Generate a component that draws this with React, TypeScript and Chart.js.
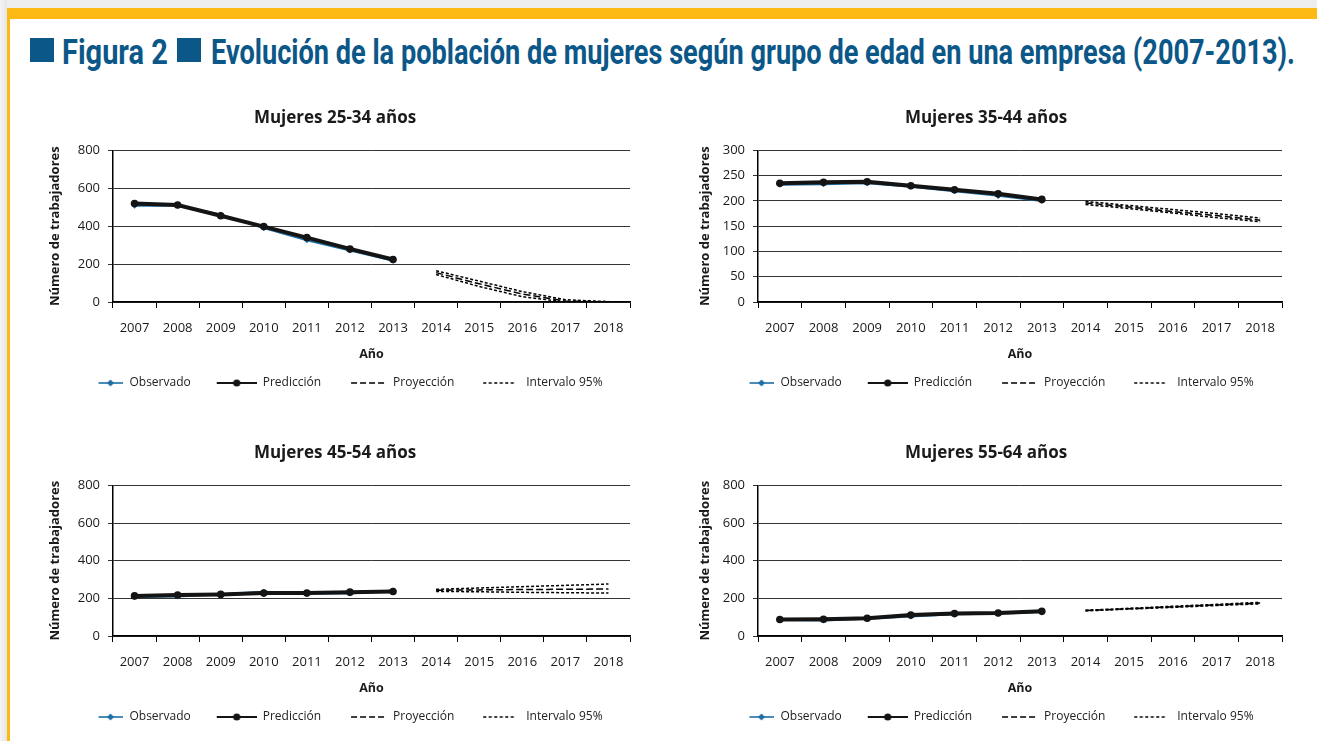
import React, { useEffect, useLayoutEffect, useRef } from 'react';
import { Chart, registerables } from 'chart.js';

Chart.register(...registerables);

// ---------- DATA ----------
const YEARS = ['2007', '2008', '2009', '2010', '2011', '2012', '2013', '2014', '2015', '2016', '2017', '2018'];
const N = null;

// Mujeres 25-34 años
const OBS_25 = [508, 508, 462, 390, 326, 272, 218, N, N, N, N, N];
const PRED_25 = [520, 512, 455, 398, 340, 280, 224, N, N, N, N, N];
const PROJ_25 = [N, N, N, N, N, N, N, 155, 96, 42, 5, 0];
const UP_25 = [N, N, N, N, N, N, N, 165, 110, 55, 12, 2];
const LO_25 = [N, N, N, N, N, N, N, 145, 82, 28, 0, 0];

// Mujeres 35-44 años
const OBS_35 = [232, 233, 235, 228, 219, 210, 200, N, N, N, N, N];
const PRED_35 = [235, 237, 238, 230, 222, 214, 203, N, N, N, N, N];
const PROJ_35 = [N, N, N, N, N, N, N, 196, 188, 179, 171, 162];
const UP_35 = [N, N, N, N, N, N, N, 199, 191, 183, 175, 166];
const LO_35 = [N, N, N, N, N, N, N, 193, 185, 176, 167, 159];

// Mujeres 45-54 años
const OBS_45 = [207, 210, 222, 235, 226, 226, 242, N, N, N, N, N];
const PRED_45 = [213, 218, 221, 228, 228, 233, 236, N, N, N, N, N];
const PROJ_45 = [N, N, N, N, N, N, N, 243, 245, 247, 248, 250];
const UP_45 = [N, N, N, N, N, N, N, 248, 255, 262, 269, 276];
const LO_45 = [N, N, N, N, N, N, N, 237, 235, 232, 230, 228];

// Mujeres 55-64 años
const OBS_55 = [85, 83, 92, 103, 115, 118, 127, N, N, N, N, N];
const PRED_55 = [88, 89, 94, 111, 119, 122, 131, N, N, N, N, N];
const PROJ_55 = [N, N, N, N, N, N, N, 135, 145, 155, 165, 175];
const UP_55 = [N, N, N, N, N, N, N, 137, 147, 158, 168, 179];
const LO_55 = [N, N, N, N, N, N, N, 133, 143, 152, 162, 171];

const LEGEND_LABELS = ['Observado', 'Predicción', 'Proyección', 'Intervalo 95%'];
const Y_TITLE = 'Número de trabajadores';
const X_TITLE = 'Año';
const HEADING_A = 'Figura 2';
const HEADING_B = 'Evolución de la población de mujeres según grupo de edad en una empresa (2007-2013).';

// ---------- STYLE ----------
const BLUE = '#1f6fa6';
const BLACK = '#141414';
const TITLE_BLUE = '#0b5788';
const YELLOW = '#fdb913';
const FONT = "'Open Sans', 'DejaVu Sans', sans-serif";
const ICON_W = 56;

function makeIcon(kind: number): HTMLCanvasElement {
  const c = document.createElement('canvas');
  c.width = ICON_W;
  c.height = 12;
  const ctx = c.getContext('2d') as CanvasRenderingContext2D;
  const y = 6;
  ctx.lineCap = 'butt';
  if (kind === 0) {
    ctx.strokeStyle = BLUE;
    ctx.lineWidth = 1.6;
    ctx.beginPath();
    ctx.moveTo(ICON_W - 25, y);
    ctx.lineTo(ICON_W, y);
    ctx.stroke();
    const cx = ICON_W - 13;
    ctx.fillStyle = BLUE;
    ctx.beginPath();
    ctx.moveTo(cx, y - 3.5);
    ctx.lineTo(cx + 3.5, y);
    ctx.lineTo(cx, y + 3.5);
    ctx.lineTo(cx - 3.5, y);
    ctx.closePath();
    ctx.fill();
  } else if (kind === 1) {
    ctx.strokeStyle = BLACK;
    ctx.lineWidth = 2;
    ctx.beginPath();
    ctx.moveTo(ICON_W - 40, y);
    ctx.lineTo(ICON_W, y);
    ctx.stroke();
    ctx.fillStyle = BLACK;
    ctx.beginPath();
    ctx.arc(ICON_W - 20, y, 3.6, 0, Math.PI * 2);
    ctx.fill();
  } else if (kind === 2) {
    ctx.strokeStyle = '#000';
    ctx.lineWidth = 1.4;
    ctx.setLineDash([6, 3]);
    ctx.beginPath();
    ctx.moveTo(ICON_W - 36, y);
    ctx.lineTo(ICON_W, y);
    ctx.stroke();
  } else {
    ctx.strokeStyle = '#000';
    ctx.lineWidth = 1.3;
    ctx.setLineDash([3, 2.5]);
    ctx.beginPath();
    ctx.moveTo(ICON_W - 37, y);
    ctx.lineTo(ICON_W - 4, y);
    ctx.stroke();
  }
  return c;
}

type PanelProps = {
  title: string;
  obs: (number | null)[];
  pred: (number | null)[];
  proj: (number | null)[];
  up: (number | null)[];
  lo: (number | null)[];
  yMax: number;
  yStep: number;
  left: number;
  top: number;
  width: number;
  height: number;
  yWidth: number;
};

function Panel(p: PanelProps) {
  const ref = useRef<HTMLCanvasElement | null>(null);
  useEffect(() => {
    if (!ref.current) return;
    const icons = [0, 1, 2, 3].map(makeIcon);
    const chart = new Chart(ref.current, {
      type: 'line',
      data: {
        labels: YEARS,
        datasets: [
          {
            label: LEGEND_LABELS[0],
            data: p.obs,
            borderColor: BLUE,
            backgroundColor: BLUE,
            borderWidth: 2,
            pointStyle: 'rectRot',
            pointRadius: 3,
            pointBorderWidth: 0,
            pointBackgroundColor: BLUE,
            pointBorderColor: BLUE,
            order: 2,
          },
          {
            label: LEGEND_LABELS[1],
            data: p.pred,
            borderColor: BLACK,
            backgroundColor: BLACK,
            borderWidth: 4,
            pointStyle: 'circle',
            pointRadius: 3.8,
            pointBorderWidth: 0,
            pointBackgroundColor: BLACK,
            pointBorderColor: BLACK,
            order: 1,
          },
          {
            label: LEGEND_LABELS[2],
            data: p.proj,
            borderColor: '#000',
            borderWidth: 1.5,
            borderDash: [7, 3],
            pointRadius: 0,
            order: 3,
          },
          {
            label: LEGEND_LABELS[3],
            data: p.up,
            borderColor: '#000',
            borderWidth: 1.5,
            borderDash: [3, 2],
            pointRadius: 0,
            order: 4,
          },
          {
            label: LEGEND_LABELS[3] + ' inf',
            data: p.lo,
            borderColor: '#000',
            borderWidth: 1.5,
            borderDash: [3, 2],
            pointRadius: 0,
            order: 5,
          },
        ],
      },
      options: {
        animation: false,
        responsive: false,
        maintainAspectRatio: false,
        spanGaps: false,
        layout: { padding: { left: 0, right: 20, top: 0, bottom: 0 } },
        plugins: {
          tooltip: { enabled: false },
          title: {
            display: true,
            text: p.title,
            color: '#1a1a1a',
            font: { family: FONT, size: 17, weight: 'bold', lineHeight: 1.2 },
            padding: { top: 8, bottom: 22 },
          },
          legend: {
            display: true,
            position: 'bottom',
            labels: {
              usePointStyle: true,
              pointStyleWidth: ICON_W,
              padding: 10,
              color: '#222',
              font: { family: FONT, size: 12 },
              generateLabels: () =>
                LEGEND_LABELS.map((t, i) => ({
                  text: t,
                  pointStyle: icons[i] as any,
                  fillStyle: 'transparent',
                  strokeStyle: 'transparent',
                  lineWidth: 0,
                  hidden: false,
                  datasetIndex: i,
                  fontColor: '#222',
                })),
            },
          },
        },
        scales: {
          x: {
            type: 'category',
            offset: true,
            afterFit: (s: any) => {
              s.height = 65;
            },
            grid: {
              offset: true,
              drawOnChartArea: false,
              drawTicks: true,
              tickLength: 6,
              color: '#000',
              lineWidth: 1,
            },
            border: { display: true, color: '#000', width: 1.5 },
            ticks: {
              color: '#1a1a1a',
              font: { family: FONT, size: 13 },
              padding: 12,
              maxRotation: 0,
              autoSkip: false,
            },
            title: {
              display: true,
              text: X_TITLE,
              color: '#1a1a1a',
              font: { family: FONT, size: 12.5, weight: 'bold', lineHeight: 1.2 },
              padding: { top: 0, bottom: 5 },
            },
          },
          y: {
            min: 0,
            max: p.yMax,
            afterFit: (s: any) => {
              s.width = p.yWidth;
            },
            grid: {
              color: '#333',
              lineWidth: 1,
              tickLength: 5,
              drawTicks: true,
            },
            border: { display: true, color: '#000', width: 1.5 },
            ticks: {
              stepSize: p.yStep,
              color: '#1a1a1a',
              font: { family: FONT, size: 13 },
              padding: 8,
            },
            title: {
              display: true,
              text: Y_TITLE,
              color: '#1a1a1a',
              font: { family: FONT, size: 13, weight: 'bold', lineHeight: 1.2 },
              padding: { top: 7, bottom: 0 },
            },
          },
        },
      } as any,
    });
    return () => chart.destroy();
  }, []);
  return (
    <canvas
      ref={ref}
      width={p.width}
      height={p.height}
      style={{ position: 'absolute', left: p.left, top: p.top, width: p.width, height: p.height }}
    />
  );
}

function Heading() {
  const aRef = useRef<HTMLSpanElement | null>(null);
  const bRef = useRef<HTMLSpanElement | null>(null);
  useLayoutEffect(() => {
    const fit = (el: HTMLSpanElement | null, target: number) => {
      if (!el) return;
      const w = el.offsetWidth;
      if (w > 0) el.style.transform = `scaleX(${target / w})`;
    };
    fit(aRef.current, 106);
    fit(bRef.current, 1084);
  }, []);
  const textStyle: React.CSSProperties = {
    position: 'absolute',
    top: 35,
    whiteSpace: 'nowrap',
    fontFamily: "'Liberation Sans Narrow', Roboto, 'Liberation Sans', sans-serif",
    fontWeight: 700,
    fontSize: 35,
    lineHeight: '35px',
    color: TITLE_BLUE,
    transformOrigin: 'left center',
  };
  const sq: React.CSSProperties = {
    position: 'absolute',
    top: 38,
    width: 24,
    height: 24,
    background: TITLE_BLUE,
  };
  return (
    <>
      <div style={{ ...sq, left: 30 }} />
      <span ref={aRef} style={{ ...textStyle, left: 62 }}>
        {HEADING_A}
      </span>
      <div style={{ ...sq, left: 177 }} />
      <span ref={bRef} style={{ ...textStyle, left: 211 }}>
        {HEADING_B}
      </span>
    </>
  );
}

export default function App() {
  return (
    <div
      style={{
        position: 'fixed',
        left: 0,
        top: 0,
        width: 1317,
        height: 741,
        background: '#ffffff',
        overflow: 'hidden',
      }}
    >
      <div style={{ position: 'absolute', left: 0, top: 0, width: 1317, height: 8, background: '#eeeeee' }} />
      <div style={{ position: 'absolute', left: 0, top: 0, width: 7, height: 741, background: 'linear-gradient(to right, #f4f4f4, #e6e6e6)' }} />
      <div style={{ position: 'absolute', left: 7, top: 8, width: 1310, height: 11, background: YELLOW }} />
      <div style={{ position: 'absolute', left: 7, top: 8, width: 3, height: 733, background: YELLOW }} />
      <Heading />
      <Panel title="Mujeres 25-34 años" obs={OBS_25} pred={PRED_25} proj={PROJ_25} up={UP_25} lo={LO_25}
        yMax={800} yStep={200} left={40} top={100} width={610} height={299} yWidth={73} />
      <Panel title="Mujeres 35-44 años" obs={OBS_35} pred={PRED_35} proj={PROJ_35} up={UP_35} lo={LO_35}
        yMax={300} yStep={50} left={690} top={100} width={612} height={299} yWidth={68} />
      <Panel title="Mujeres 45-54 años" obs={OBS_45} pred={PRED_45} proj={PROJ_45} up={UP_45} lo={LO_45}
        yMax={800} yStep={200} left={40} top={435} width={610} height={298} yWidth={73} />
      <Panel title="Mujeres 55-64 años" obs={OBS_55} pred={PRED_55} proj={PROJ_55} up={UP_55} lo={LO_55}
        yMax={800} yStep={200} left={690} top={435} width={612} height={298} yWidth={68} />
    </div>
  );
}
